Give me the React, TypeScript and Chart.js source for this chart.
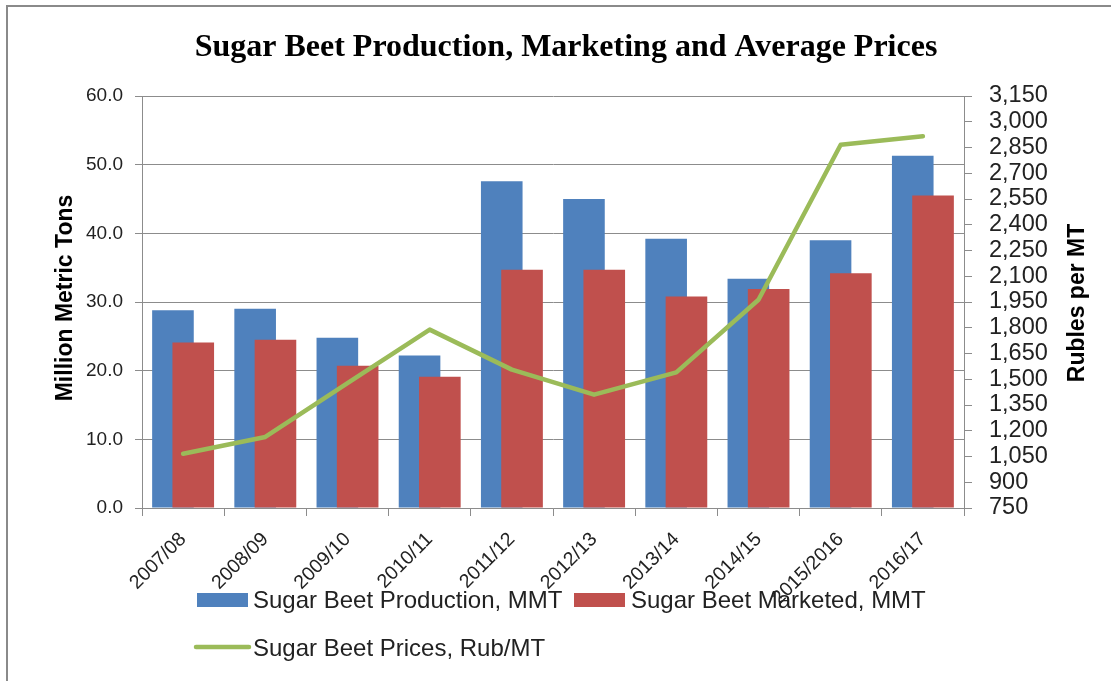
import React, { useEffect, useRef } from "react";
import { Chart, registerables } from "chart.js";

Chart.register(...registerables);

// ---------- data ----------
const categories = [
  "2007/08",
  "2008/09",
  "2009/10",
  "2010/11",
  "2011/12",
  "2012/13",
  "2013/14",
  "2014/15",
  "2015/2016",
  "2016/17",
];
const production = [28.8, 29.0, 24.8, 22.2, 47.6, 45.0, 39.2, 33.4, 39.0, 51.3];
const marketed = [24.1, 24.5, 20.7, 19.1, 34.7, 34.7, 30.8, 31.9, 34.2, 45.5];
const prices = [1066, 1164, 1478, 1789, 1556, 1410, 1540, 1963, 2866, 2915];

const leftAxisMin = 0;
const leftAxisMax = 60;
const leftAxisStep = 10;
const rightAxisMin = 750;
const rightAxisMax = 3150;
const rightAxisStep = 150;

const seriesLabels = [
  "Sugar Beet Production, MMT",
  "Sugar Beet Marketed, MMT",
  "Sugar Beet Prices, Rub/MT",
];
const chartTitle = "Sugar Beet Production, Marketing and Average Prices";
const leftTitle = "Million Metric Tons";
const rightTitle = "Rubles per MT";

// ---------- styles ----------
const BLUE = "#4F81BD";
const RED = "#C0504D";
const GREEN = "#9BBB59";
const GRID = "#8c8c8c";
const TEXT = "#222222";
const SANS = '"Liberation Sans", Arial, sans-serif';
const SERIF = '"Liberation Serif", "Times New Roman", serif';

const W = 1111;
const H = 681;

// draw bars in order: blue, red on top, then the line
const drawOrderPlugin = {
  id: "drawOrder",
  beforeDatasetsDraw(chart: any) {
    const { ctx, chartArea } = chart;
    ctx.save();
    ctx.beginPath();
    ctx.rect(chartArea.left, chartArea.top - 4, chartArea.right - chartArea.left, chartArea.bottom - chartArea.top + 8);
    ctx.clip();
    [0, 1, 2].forEach((i) => {
      const meta = chart.getDatasetMeta(i);
      if (meta && meta.controller) meta.controller.draw();
    });
    ctx.restore();
    return false;
  },
};

const decorPlugin = {
  id: "decor",
  afterDraw(chart: any) {
    const { ctx, chartArea } = chart;
    const midY = (chartArea.top + chartArea.bottom) / 2;
    ctx.save();
    ctx.fillStyle = "#000";
    // title
    ctx.font = `bold 32px ${SERIF}`;
    ctx.textAlign = "center";
    ctx.textBaseline = "alphabetic";
    ctx.fillText(chartTitle, 566, 56);

    // axis titles (both reading bottom to top)
    ctx.font = `bold 23px ${SANS}`;
    ctx.fillStyle = "#000";
    ctx.save();
    ctx.translate(71.5, midY - 4);
    ctx.rotate(-Math.PI / 2);
    ctx.textAlign = "center";
    ctx.fillText(leftTitle, 0, 0);
    ctx.restore();

    ctx.save();
    ctx.translate(1084, midY + 1);
    ctx.rotate(-Math.PI / 2);
    ctx.textAlign = "center";
    ctx.fillText(rightTitle, 0, 0);
    ctx.restore();

    // legend
    const ds = chart.data.datasets;
    ctx.font = `24px ${SANS}`;
    ctx.textAlign = "left";
    ctx.fillStyle = TEXT;
    // row 1
    ctx.fillStyle = ds[0].backgroundColor;
    ctx.fillRect(197, 593, 51, 14);
    ctx.fillStyle = TEXT;
    ctx.fillText(ds[0].label, 253, 608);
    ctx.fillStyle = ds[1].backgroundColor;
    ctx.fillRect(574, 593, 51, 14);
    ctx.fillStyle = TEXT;
    ctx.fillText(ds[1].label, 631, 608);
    // row 2
    ctx.strokeStyle = ds[2].borderColor;
    ctx.lineWidth = 4.5;
    ctx.lineCap = "round";
    ctx.beginPath();
    ctx.moveTo(196, 647);
    ctx.lineTo(249, 647);
    ctx.stroke();
    ctx.fillStyle = TEXT;
    ctx.fillText(ds[2].label, 253, 656);
    ctx.restore();
  },
};

export default function App() {
  const canvasRef = useRef<HTMLCanvasElement | null>(null);

  useEffect(() => {
    const canvas = canvasRef.current;
    if (!canvas) return;
    const chart = new Chart(canvas, {
      type: "bar",
      data: {
        labels: categories,
        datasets: [
          {
            type: "bar",
            label: seriesLabels[0],
            data: production,
            backgroundColor: BLUE,
            borderWidth: 0,
            xAxisID: "x",
            yAxisID: "y",
            categoryPercentage: 0.494,
            barPercentage: 2.05,
          },
          {
            type: "bar",
            label: seriesLabels[1],
            data: marketed,
            backgroundColor: RED,
            borderWidth: 0,
            xAxisID: "x",
            yAxisID: "y",
            categoryPercentage: 0.494,
            barPercentage: 2.05,
          },
          {
            type: "line",
            label: seriesLabels[2],
            data: prices,
            borderColor: GREEN,
            backgroundColor: GREEN,
            borderWidth: 4.5,
            pointRadius: 0,
            pointHoverRadius: 0,
            tension: 0,
            borderJoinStyle: "round",
            borderCapStyle: "round",
            fill: false,
            xAxisID: "x",
            yAxisID: "y1",
          },
        ],
      } as any,
      options: {
        responsive: false,
        animation: false,
        devicePixelRatio: 1,
        events: [],
        layout: { padding: { left: 0, right: 0, top: 96, bottom: 73 } },
        plugins: {
          legend: { display: false },
          title: { display: false },
          tooltip: { enabled: false },
        },
        scales: {
          x: {
            type: "category",
            offset: true,
            grid: {
              display: true,
              offset: true,
              drawOnChartArea: false,
              drawTicks: true,
              tickLength: 8,
              color: GRID,
            },
            border: { display: true, color: GRID },
            ticks: {
              autoSkip: false,
              maxRotation: 45,
              minRotation: 45,
              padding: 12,
              color: TEXT,
              font: { family: SANS, size: 19.5 },
            },
            afterFit: (s: any) => {
              s.height = 100;
            },
          },
          y: {
            type: "linear",
            position: "left",
            min: leftAxisMin,
            max: leftAxisMax,
            grid: { color: GRID, tickLength: 7 },
            border: { display: true, color: GRID },
            ticks: {
              stepSize: leftAxisStep,
              autoSkip: false,
              padding: 12,
              color: TEXT,
              font: { family: SANS, size: 19, lineHeight: 1 },
              callback: (v: any) => Number(v).toFixed(1),
            },
            afterFit: (s: any) => {
              s.width = 142;
            },
          },
          y1: {
            type: "linear",
            position: "right",
            min: rightAxisMin,
            max: rightAxisMax,
            grid: { drawOnChartArea: false, color: GRID, tickLength: 8 },
            border: { display: true, color: GRID },
            ticks: {
              stepSize: rightAxisStep,
              autoSkip: false,
              padding: 17,
              color: TEXT,
              font: { family: SANS, size: 23.5, lineHeight: 1 },
              callback: (v: any) => Number(v).toLocaleString("en-US"),
            },
            afterFit: (s: any) => {
              s.width = 147;
            },
          },
        },
      } as any,
      plugins: [drawOrderPlugin, decorPlugin],
    });
    return () => chart.destroy();
  }, []);

  return (
    <div
      style={{
        position: "fixed",
        left: 0,
        top: 0,
        width: W,
        height: H,
        background: "#fff",
        overflow: "hidden",
      }}
    >
      <div
        style={{
          position: "absolute",
          left: 6,
          top: 5,
          width: 1300,
          height: 900,
          border: "2px solid #8a8a8a",
        }}
      />
      <canvas
        ref={canvasRef}
        width={W}
        height={H}
        style={{ position: "absolute", left: 0, top: 0, width: W, height: H, display: "block" }}
      />
    </div>
  );
}
